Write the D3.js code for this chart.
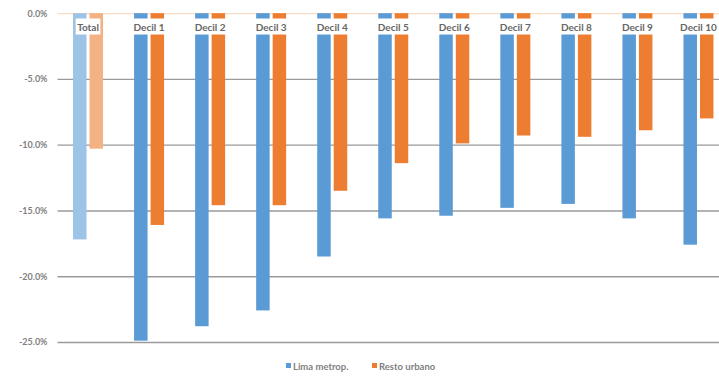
<!DOCTYPE html>
<html>
<head>
<meta charset="utf-8">
<script src="https://cdn.jsdelivr.net/npm/d3@7/dist/d3.min.js"></script>
<style>
  html, body { margin: 0; padding: 0; background: #fff; }
  svg { display: block; }
  text { font-family: Lato, "Open Sans", sans-serif; }
</style>
</head>
<body>
<svg id="chart" width="719" height="377"></svg>
<script>
// Categories and the two series (percent change)
const categories = ["Total", "Decil 1", "Decil 2", "Decil 3", "Decil 4", "Decil 5",
                    "Decil 6", "Decil 7", "Decil 8", "Decil 9", "Decil 10"];
const limaMetrop = [-17.2, -24.9, -23.8, -22.6, -18.5, -15.6, -15.4, -14.8, -14.5, -15.6, -17.6];
const restoUrbano = [-10.3, -16.1, -14.6, -14.6, -13.5, -11.4, -9.9, -9.3, -9.4, -8.9, -8.0];
const seriesNames = ["Lima metrop.", "Resto urbano"];
const yTicks = [0, -5, -10, -15, -20, -25];

const colors = ["#5B9BD5", "#ED7D31"];
const totalColors = ["#9DC3E6", "#F4B183"];

const svg = d3.select("#chart");
const margin = { left: 57.5, right: -10, top: 13.2, bottom: 35 };
const W = 719, H = 377;

// Number format with a plain hyphen as the minus sign
const locale = d3.formatLocale({ decimal: ".", thousands: ",", grouping: [3], currency: ["", ""], minus: "-" });
const fmt = locale.format(".1f");

const x = d3.scaleBand()
  .domain(categories)
  .range([margin.left, W - margin.right])
  .paddingInner(0).paddingOuter(0);

const y = d3.scaleLinear()
  .domain([0, -25])
  .range([margin.top, 342]);

// Gridlines
const yAxis = d3.axisLeft(y)
  .tickValues(yTicks)
  .tickSize(-(W - margin.left))
  .tickFormat(d => fmt(d) + "%");

const gAxis = svg.append("g")
  .attr("transform", `translate(${margin.left},0)`)
  .call(yAxis);
gAxis.select(".domain").remove();
gAxis.selectAll(".tick line")
  .attr("stroke", d => d === 0 ? "#F8DCC4" : "#9a9a9a")
  .attr("stroke-width", 1.3);
gAxis.selectAll(".tick text")
  .attr("x", -10)
  .attr("fill", "#7f7f7f")
  .attr("font-size", 9)
  .attr("font-weight", 700);

// Bars
const barW = 13.5, gap = 3;
const rows = categories.map((c, i) => ({ c, i, vals: [limaMetrop[i], restoUrbano[i]] }));

const groups = svg.append("g").selectAll("g")
  .data(rows).join("g")
  .attr("transform", d => `translate(${x(d.c) + x.bandwidth() / 2},0)`);

groups.selectAll("rect")
  .data(d => d.vals.map((v, s) => ({ v, s, total: d.i === 0 })))
  .join("rect")
  .attr("x", d => d.s === 0 ? -gap / 2 - barW : gap / 2)
  .attr("width", barW)
  .attr("y", y(0))
  .attr("height", d => y(d.v) - y(0))
  .attr("fill", d => d.total ? totalColors[d.s] : colors[d.s]);

// Category labels sitting on white boxes at the top
const labels = svg.append("g").selectAll("g")
  .data(categories).join("g")
  .attr("transform", d => `translate(${x(d) + x.bandwidth() / 2},0)`);

labels.append("text")
  .attr("y", 30.5)
  .attr("text-anchor", "middle")
  .attr("font-size", 10)
  .attr("font-weight", 700)
  .attr("fill", "#666")
  .text(d => d)
  .each(function () {
    const bb = this.getBBox();
    d3.select(this.parentNode).insert("rect", "text")
      .attr("x", bb.x - 1.5)
      .attr("y", 18.5)
      .attr("width", bb.width + 3)
      .attr("height", 16)
      .attr("fill", "#fff");
  });

// Legend
const legend = svg.append("g").attr("transform", "translate(286,366)");
const legendX = [0, 86];
seriesNames.forEach((name, i) => {
  const g = legend.append("g").attr("transform", `translate(${legendX[i]},0)`);
  g.append("rect").attr("x", 0).attr("y", -3).attr("width", 5).attr("height", 5).attr("fill", colors[i]);
  g.append("text").attr("x", 7).attr("y", 3.5)
    .attr("font-size", 9.5).attr("font-weight", 700).attr("fill", "#7f7f7f")
    .text(name);
});
</script>
</body>
</html>
